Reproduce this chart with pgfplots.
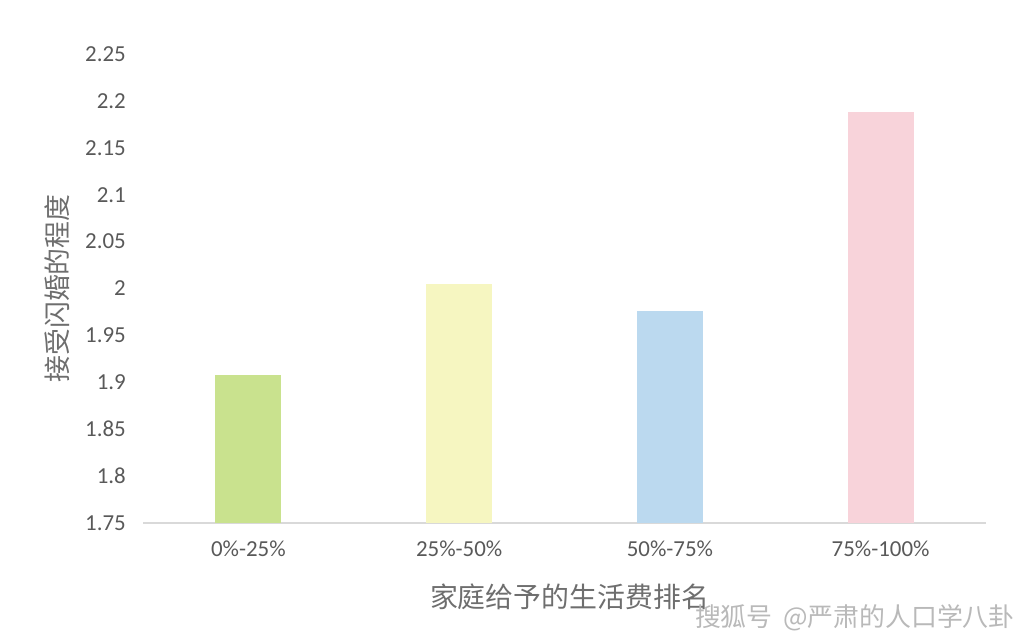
\documentclass[border=0pt]{standalone}
\usepackage{pgfplots}
\pgfplotsset{compat=1.18}
\usepackage{fontspec}
\setmainfont{Carlito}
\newfontfamily\cjk{Noto Sans CJK SC}
\definecolor{barA}{HTML}{C9E28E}
\definecolor{barB}{HTML}{F6F6C1}
\definecolor{barC}{HTML}{BBD9EF}
\definecolor{barD}{HTML}{F8D3DA}
\definecolor{txt}{HTML}{595959}
\definecolor{lbl}{HTML}{6E6E6E}
\definecolor{axl}{HTML}{D9D9D9}
\begin{document}
\begin{tikzpicture}[x=1bp,y=1bp]
\path[use as bounding box] (0,0) rectangle (1029,637);
\begin{axis}[
    at={(143bp,114bp)}, anchor=south west,
    scale only axis,
    width=843bp, height=469bp,
    ybar, bar width=66bp, bar shift=0pt,
    xmin=-0.5, xmax=3.5,
    ymin=1.75, ymax=2.25,
    xtick={0,1,2,3},
    xticklabels={0\%-25\%,25\%-50\%,50\%-75\%,75\%-100\%},
    ytick={1.75,1.8,...,2.26},
    yticklabels={1.75,1.8,1.85,1.9,1.95,2,2.05,2.1,2.15,2.2,2.25},
    axis lines*=left,
    x axis line style={draw=axl, line width=1.6bp, -},
    y axis line style={draw=none},
    major tick length=0pt,
    tick label style={font=\fontsize{23}{26}\selectfont, text=txt},
    yticklabel style={anchor=east, inner sep=0pt, xshift=-17bp},
    xticklabel style={anchor=north, inner sep=0pt, yshift=-18bp},
    /pgf/number format/assume math mode=true,
    xlabel={家庭给予的生活费排名},
    ylabel={接受闪婚的程度},
    xlabel style={font=\cjk\fontsize{28}{30}\selectfont, text=lbl,
        at={([xshift=5bp,yshift=-74bp]axis description cs:0.5,0)}, anchor=center},
    ylabel style={font=\cjk\fontsize{27}{30}\selectfont, text=lbl,
        at={([xshift=-86bp]axis description cs:0,0.5)}, anchor=center},
    clip=false,
]
\addplot[fill=barA, draw=none] coordinates {(0,1.908)};
\addplot[fill=barB, draw=none] coordinates {(1,2.005)};
\addplot[fill=barC, draw=none] coordinates {(2,1.976)};
\addplot[fill=barD, draw=none] coordinates {(3,2.188)};
\end{axis}
\node[anchor=east, text=gray!55, font=\cjk\fontsize{26}{28}\selectfont, inner sep=0pt] at (1015,19) {搜狐号\hspace{0.4em}@严肃的人口学八卦};
\end{tikzpicture}
\end{document}
